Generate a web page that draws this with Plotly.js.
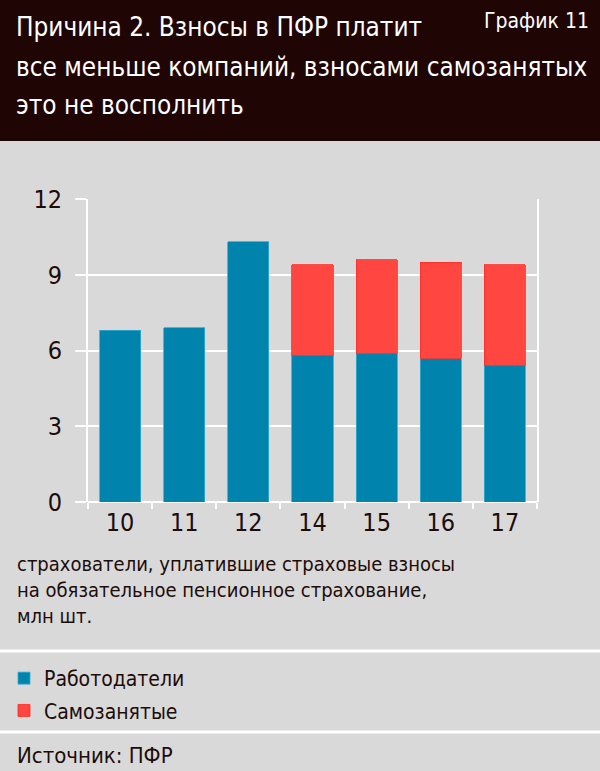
<!DOCTYPE html>
<html>
<head>
<meta charset="utf-8">
<script src="https://cdn.plot.ly/plotly-3.0.1.min.js"></script>
<style>
html,body{margin:0;padding:0;background:#d9d9d9;}
#chart{width:600px;height:771px;}
</style>
</head>
<body>
<div id="chart"></div>
<script>
// Data
const years = ['10', '11', '12', '14', '15', '16', '17'];
const employers = [6.8, 6.9, 10.3, 5.8, 5.9, 5.7, 5.4];
const selfEmployed = [null, null, null, 3.6, 3.7, 3.8, 4.0];
const yTicks = [0, 3, 6, 9, 12];
const seriesNames = ['Работодатели', 'Самозанятые'];
const titleLines = ['Причина 2. Взносы в ПФР платит', 'все меньше компаний, взносами самозанятых', 'это не восполнить'];
const chartTag = 'График 11';
const noteLines = ['страхователи, уплатившие страховые взносы', 'на обязательное пенсионное страхование,', 'млн шт.'];
const sourceText = 'Источник: ПФР';

// Layout geometry (pixels)
const W = 600, H = 771;
const L = 88, R = 537, T = 199, B = 502;
const px = p => (p - L) / (R - L);
const py = p => (B - p) / (B - T);

const FONT = '"DejaVu Sans Condensed", "Liberation Sans Narrow", "Liberation Sans", Arial, sans-serif';
const INK = '#1c0c0a';
const BLUE = '#0083ad';
const RED = '#ff4641';

const traces = [
  {type: 'bar', x: years, y: employers, name: seriesNames[0], legendgroup: 'a',
   marker: {color: BLUE, line: {color: '#35a9cc', width: 0.8}}, hoverinfo: 'y'},
  {type: 'bar', x: years, y: selfEmployed, name: seriesNames[1], legendgroup: 'b',
   marker: {color: RED, line: {color: '#ff2a22', width: 0.8}}, hoverinfo: 'y'}
];

const titleTops = [10, 50, 88];
const titleAnnotations = titleLines.map((t, i) => ({
  text: t, xref: 'paper', yref: 'paper', x: px(14), y: py(titleTops[i]), xanchor: 'left', yanchor: 'top',
  align: 'left', showarrow: false, font: {size: 25.9, color: '#ffffff', family: FONT}
}));

const layout = {
  width: W, height: H,
  margin: {l: L, r: W - R, t: T, b: H - B, pad: 0, autoexpand: false},
  paper_bgcolor: '#d9d9d9', plot_bgcolor: '#d9d9d9',
  font: {family: FONT, color: INK, size: 20},
  barmode: 'stack', bargap: 0.36,
  showlegend: true,
  legend: {x: px(4), y: py(658), xanchor: 'left', yanchor: 'top', traceorder: 'grouped',
           tracegroupgap: 2, bgcolor: 'rgba(0,0,0,0)', font: {size: 21, color: INK, family: FONT}},
  xaxis: {type: 'category', showgrid: false, showline: false, zeroline: false,
          ticks: 'outside', tickson: 'boundaries', ticklen: 6, tickwidth: 2, tickcolor: '#ffffff',
          ticklabelstandoff: 3,
          tickfont: {size: 25, color: INK}, fixedrange: true},
  yaxis: {range: [0, 12], tickvals: yTicks, ticktext: yTicks.map(String), showgrid: true, gridcolor: '#ffffff', gridwidth: 2,
          zeroline: true, zerolinecolor: '#ffffff', zerolinewidth: 2,
          showline: true, mirror: true, linecolor: '#ffffff', linewidth: 2,
          ticks: 'outside', ticklen: 11, tickwidth: 2, tickcolor: '#ffffff',
          ticklabelstandoff: 8,
          tickfont: {size: 25, color: INK}, fixedrange: true},
  shapes: [
    {type: 'rect', xref: 'paper', yref: 'paper', x0: px(-5), x1: px(W + 5), y0: py(141), y1: py(-5),
     fillcolor: '#1f0604', line: {width: 0}, layer: 'below'},
    {type: 'line', xref: 'paper', yref: 'paper', x0: px(0), x1: px(W), y0: py(651), y1: py(651),
     line: {color: '#ffffff', width: 3}},
    {type: 'line', xref: 'paper', yref: 'paper', x0: px(0), x1: px(W), y0: py(732), y1: py(732),
     line: {color: '#ffffff', width: 3}}
  ],
  annotations: titleAnnotations.concat([
    {text: chartTag, xref: 'paper', yref: 'paper', x: px(591), y: py(21), xanchor: 'right', yanchor: 'middle',
     showarrow: false, font: {size: 21, color: '#ffffff', family: FONT}},
    {text: noteLines.join('<br>'), xref: 'paper', yref: 'paper', x: px(15), y: py(549.5), xanchor: 'left', yanchor: 'top',
     align: 'left', showarrow: false, font: {size: 20, color: INK, family: FONT}},
    {text: sourceText, xref: 'paper', yref: 'paper', x: px(15), y: py(755), xanchor: 'left', yanchor: 'middle',
     showarrow: false, font: {size: 22, color: INK, family: FONT}}
  ])
};

Plotly.newPlot('chart', traces, layout, {displayModeBar: false, staticPlot: true});
</script>
</body>
</html>
